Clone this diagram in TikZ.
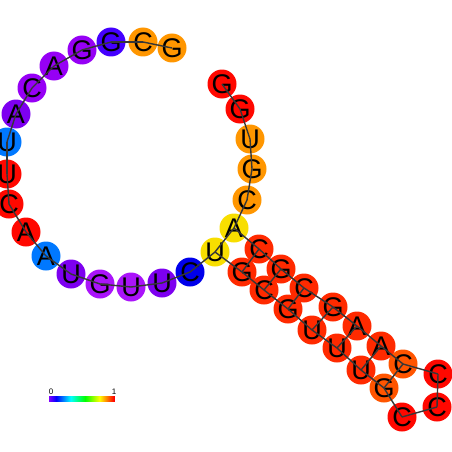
\documentclass[tikz,border=0pt]{standalone}
\usepackage{fontspec}
\setmainfont{Liberation Sans}
\usepackage{xcolor}
\definecolor{basered}{RGB}{255,8,0}
\definecolor{basestem}{RGB}{255,42,0}
\definecolor{basestemlt}{RGB}{255,85,0}
\definecolor{baseorange}{RGB}{255,150,0}
\definecolor{baseyellow}{RGB}{248,222,0}
\definecolor{baseblue}{RGB}{0,0,235}
\definecolor{basesky}{RGB}{0,120,255}
\definecolor{baseindigo}{RGB}{68,0,255}
\definecolor{basevioA}{RGB}{125,0,240}
\definecolor{basevioB}{RGB}{150,0,245}
\definecolor{basevioC}{RGB}{170,20,250}
\definecolor{backbone}{RGB}{55,55,55}

\begin{document}
\begin{tikzpicture}[x=1pt,y=-1pt,
    nt/.style={circle,minimum size=29pt,inner sep=0pt,
               font=\fontsize{27}{27}\selectfont},
    link/.style={backbone,line width=1.4pt},
    barlabel/.style={font=\fontsize{8}{8}\selectfont,inner sep=0pt,anchor=south}]
  \useasboundingbox (0,0) rectangle (452,452);

  % nucleotides, 5' to 3'
  \foreach \id/\x/\y/\b/\c in {
      1/222/84/G/basered, 2/240/109/G/basered, 3/250/139/U/baseorange,
      4/252/169/G/baseorange, 5/247/200/C/baseorange, 6/234/228/A/baseyellow,
      7/259/249/C/basestem, 8/281/269/G/basestem, 9/304/288/C/basestem,
      10/333/307/G/basestem, 11/357/326/A/basestem, 12/381/346/A/basestem,
      13/403/364/C/basestemlt, 14/438/374/C/basered, 15/437/407/C/basered,
      16/402/417/C/basered, 17/384/388/G/basestemlt, 18/361/370/U/basestem,
      19/337/348/U/basestem, 20/312/330/U/basestem, 21/288/309/G/basestem,
      22/264/290/C/basestem, 23/242/272/G/basestem, 24/215/252/U/baseyellow,
      25/190/272/C/baseblue, 26/162/283/U/basevioA, 27/131/287/U/basevioC,
      28/100/284/G/basevioC, 29/71/274/U/basevioA, 30/46/256/A/basesky,
      31/26/232/A/basered, 32/9/204/C/basered, 33/7/174/U/basered,
      34/7/142/U/basesky, 35/16/114/A/basevioA, 36/32/88/C/basevioB,
      37/54/66/A/basevioB, 38/82/50/G/basevioB, 39/111/42/G/baseindigo,
      40/143/42/C/baseorange, 41/172/48/G/baseorange}
    \node[nt,fill=\c] (n\id) at (\x,\y) {\b};

  % backbone
  \foreach \i [evaluate=\i as \j using int(\i+1)] in {1,...,40}
    \draw[link] (n\i.center) -- (n\j.center);

  % base pairs
  \foreach \p/\q in {6/24,7/23,8/22,9/21,10/20,11/19,12/18,13/17}
    \draw[link] (n\p.center) -- (n\q.center);

  % colour bar
  \foreach \k in {0,...,65} {
    \pgfmathsetmacro\hue{0.75*(1-\k/65)}
    \definecolor{barcol}{hsb}{\hue,1,1}
    \fill[barcol] (49+\k,396) rectangle (50.4+\k,402);
  }
  \node[barlabel] (barlo) at (51,395) {0};
  \node[barlabel] (barhi) at (114,395) {1};
\end{tikzpicture}
\end{document}
